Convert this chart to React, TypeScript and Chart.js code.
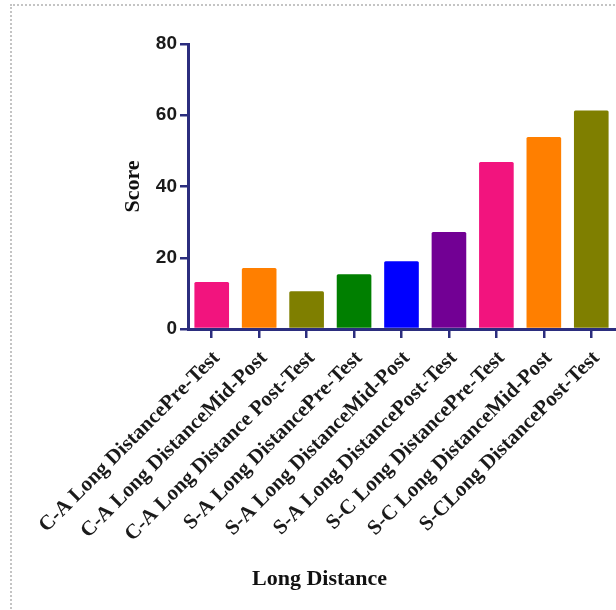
import React, { useEffect, useRef } from "react";
import { Chart, registerables } from "chart.js";

Chart.register(...registerables);

const categories = [
  "C-A Long DistancePre-Test",
  "C-A Long DistanceMid-Post",
  "C-A Long Distance Post-Test",
  "S-A Long DistancePre-Test",
  "S-A Long DistanceMid-Post",
  "S-A Long DistancePost-Test",
  "S-C Long DistancePre-Test",
  "S-C Long DistanceMid-Post",
  "S-CLong DistancePost-Test",
];
const scores = [13.2, 17.1, 10.6, 15.4, 19.0, 27.2, 46.9, 53.9, 61.3];
const barColors = [
  "#F2147E",
  "#FF7F00",
  "#7F7F00",
  "#007F00",
  "#0000FF",
  "#720094",
  "#F2147E",
  "#FF7F00",
  "#7F7F00",
];
const yTicks = [0, 20, 40, 60, 80];
const xTitle = "Long Distance";
const yTitle = "Score";

const AXIS = "#2B2D7E";

export default function App() {
  const ref = useRef<HTMLCanvasElement | null>(null);
  useEffect(() => {
    if (!ref.current) return;
    const chart = new Chart(ref.current, {
      type: "bar",
      data: {
        labels: categories,
        datasets: [
          {
            data: scores,
            backgroundColor: barColors,
            borderWidth: 0,
            borderRadius: 1.5,
            barPercentage: 0.73,
            categoryPercentage: 1,
          },
        ],
      },
      options: {
        responsive: false,
        animation: false,
        devicePixelRatio: 1,
        layout: { padding: { left: 24, right: 1, top: 44, bottom: 0 } },
        plugins: {
          legend: { display: false },
          tooltip: { enabled: false },
          title: {
            display: true,
            text: xTitle,
            position: "bottom",
            color: "#111",
            font: { family: "'Liberation Serif', serif", size: 22, weight: "bold" },
            padding: { top: 0, bottom: 17 },
          },
        },
        scales: {
          x: {
            grid: {
              offset: false,
              drawOnChartArea: false,
              drawTicks: true,
              tickLength: 9,
              color: AXIS,
              lineWidth: 2.5,
            },
            border: { display: true, color: AXIS, width: 3 },
            ticks: {
              autoSkip: false,
              minRotation: 45,
              maxRotation: 45,
              padding: 8,
              labelOffset: 5,
              color: "#1a1a1a",
              font: { family: "'Liberation Serif', serif", size: 21, weight: "bold" },
            },
            afterFit: (s: any) => {
              s.height = 610 - 43.4 - 329;
              s.paddingLeft = 0;
              s.paddingRight = 0;
            },
          },
          y: {
            min: 0,
            max: 80,
            afterBuildTicks: (s: any) => {
              s.ticks = yTicks.map((v) => ({ value: v }));
            },
            grid: {
              drawOnChartArea: false,
              drawTicks: true,
              tickLength: 8,
              color: AXIS,
              lineWidth: 2.5,
            },
            border: { display: true, color: AXIS, width: 3 },
            ticks: {
              padding: 3,
              color: "#1a1a1a",
              font: { family: "'Liberation Sans', Arial, sans-serif", size: 19, weight: "bold" },
            },
            title: {
              display: true,
              text: yTitle,
              color: "#111",
              font: { family: "'Liberation Serif', serif", size: 22, weight: "bold" },
              padding: { top: 96, bottom: 0 },
            },
            afterFit: (s: any) => {
              s.width = 188 - 24;
              s.paddingTop = 0;
              s.paddingBottom = 0;
            },
          },
        },
      },
    });
    return () => chart.destroy();
  }, []);

  return (
    <div
      style={{
        position: "fixed",
        left: 0,
        top: 0,
        width: 616,
        height: 610,
        overflow: "hidden",
        background: "#fff",
      }}
    >
      <div
        style={{
          position: "absolute",
          left: 10,
          top: 4,
          width: 700,
          height: 700,
          border: "2px dotted #c4c4c4",
        }}
      />
      <canvas
        ref={ref}
        width={616}
        height={610}
        style={{ position: "absolute", left: 0, top: 0, width: 616, height: 610 }}
      />
    </div>
  );
}
